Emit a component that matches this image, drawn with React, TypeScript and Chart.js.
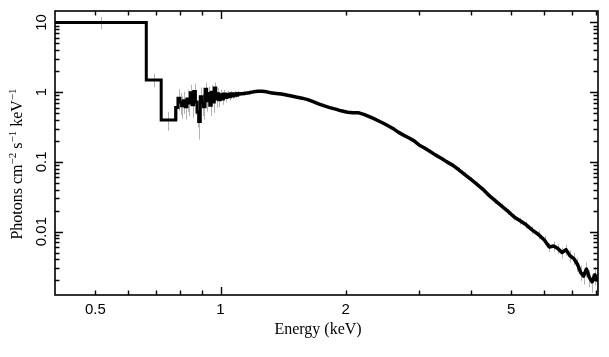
import React, { useEffect, useRef } from "react";
import { Chart, registerables } from "chart.js";

Chart.register(...registerables);

// ---- Low-energy, wide/noisy bins: lower bin edges (keV) and flux ----
const binLo = [
  0.3, 0.663, 0.72, 0.78, 0.79, 0.798, 0.806, 0.814, 0.822, 0.83, 0.838, 0.846,
  0.854, 0.862, 0.87, 0.878, 0.886, 0.894, 0.902, 0.91, 0.918, 0.926, 0.934,
  0.942, 0.95, 0.958, 0.966, 0.974, 0.982, 0.99, 0.998, 1.006, 1.016, 1.026,
  1.036, 1.046, 1.056, 1.066, 1.076, 1.086, 1.098,
];
const binEnd = 1.11;
const binFlux = [
  10, 1.5, 0.4, 0.6, 0.82, 0.72, 0.64, 0.75, 0.62, 0.8, 0.7, 0.98,
  0.66, 1.02, 0.72, 0.52, 0.38, 0.86, 0.7, 0.62, 1.1, 0.75, 0.96,
  0.65, 1.0, 0.72, 1.15, 0.8, 0.95, 0.78, 0.92, 0.8, 0.94, 0.84,
  0.93, 0.86, 0.95, 0.88, 0.95, 0.9, 0.96,
];
const binErr = [
  0.2, 0.22, 0.3, 0.35, 0.35, 0.35, 0.35, 0.35, 0.35, 0.35, 0.35, 0.3,
  0.35, 0.3, 0.35, 0.4, 0.45, 0.35, 0.35, 0.35, 0.25, 0.3, 0.25,
  0.3, 0.25, 0.3, 0.2, 0.25, 0.2, 0.22, 0.18, 0.18, 0.15, 0.15,
  0.12, 0.12, 0.1, 0.1, 0.1, 0.09, 0.09,
];

// ---- Finely binned part: bin centres (keV) and flux ----
const fineE = [
  1.11, 1.14, 1.17, 1.2, 1.23, 1.26, 1.29, 1.32, 1.36, 1.4, 1.44, 1.48, 1.52,
  1.57, 1.62, 1.67, 1.72, 1.77, 1.83, 1.89, 1.95, 2.02, 2.08, 2.15, 2.21, 2.27,
  2.33, 2.4, 2.47, 2.54, 2.61, 2.68, 2.76, 2.84, 2.92, 3.0, 3.1, 3.19, 3.29,
  3.4, 3.5, 3.62, 3.74, 3.86, 4.0, 4.13, 4.28, 4.42, 4.58, 4.75, 4.92, 5.08,
  5.26, 5.43, 5.62, 5.82, 6.01, 6.17, 6.32, 6.47, 6.62, 6.77, 6.92, 7.07, 7.21,
  7.34, 7.46, 7.58, 7.7, 7.82, 7.94, 8.05,
];
const fineFlux = [
  0.94, 0.96, 0.98, 1.01, 1.03, 1.03, 1.01, 0.98, 0.96, 0.94, 0.91, 0.88, 0.85,
  0.82, 0.78, 0.73, 0.68, 0.64, 0.6, 0.57, 0.54, 0.515, 0.505, 0.505, 0.48, 0.45,
  0.42, 0.385, 0.355, 0.325, 0.295, 0.265, 0.24, 0.22, 0.2, 0.175, 0.157, 0.141, 0.125,
  0.112, 0.1, 0.089, 0.077, 0.066, 0.056, 0.048, 0.04, 0.033, 0.0275, 0.023, 0.0193, 0.0162,
  0.0142, 0.0125, 0.0105, 0.009, 0.0075, 0.006, 0.0062, 0.0057, 0.005, 0.0055, 0.0045, 0.0041, 0.0034,
  0.0026, 0.0023, 0.0029, 0.0022, 0.0019, 0.0024, 0.002,
];
const fineErr = [
  0.08, 0.07, 0.07, 0.06, 0.06, 0.05, 0.05, 0.05, 0.05, 0.05, 0.05, 0.05, 0.05,
  0.05, 0.05, 0.05, 0.05, 0.05, 0.05, 0.05, 0.05, 0.05, 0.05, 0.05, 0.05, 0.05,
  0.05, 0.05, 0.05, 0.05, 0.05, 0.05, 0.05, 0.05, 0.05, 0.05, 0.06, 0.06, 0.06,
  0.06, 0.07, 0.07, 0.07, 0.08, 0.08, 0.08, 0.09, 0.09, 0.1, 0.1, 0.1, 0.11,
  0.12, 0.12, 0.13, 0.14, 0.15, 0.15, 0.16, 0.16, 0.18, 0.18, 0.2, 0.2, 0.22,
  0.25, 0.25, 0.25, 0.28, 0.3, 0.3, 0.3,
];

const xTickLabels = [0.5, 1, 2, 5];
const yTickLabels = [0.01, 0.1, 1, 10];
const xLabel = "Energy (keV)";
const yLabelParts: [string, boolean][] = [
  ["Photons cm", false],
  ["\u22122", true],
  [" s", false],
  ["\u22121", true],
  [" keV", false],
  ["\u22121", true],
];

const X_MIN = 0.4;
const X_MAX = 8.08;
const Y_MIN = 0.00123;
const Y_MAX = 14.6;

const errorBarPlugin = {
  id: "errorBars",
  beforeDatasetsDraw(chart: any) {
    const { ctx, chartArea, scales } = chart;
    const xs = scales.x;
    const ys = scales.y;
    ctx.save();
    ctx.beginPath();
    ctx.rect(chartArea.left, chartArea.top, chartArea.right - chartArea.left, chartArea.bottom - chartArea.top);
    ctx.clip();
    ctx.strokeStyle = "#b4b4b4";
    ctx.lineWidth = 1;
    const bar = (e: number, f: number, r: number) => {
      const px = Math.round(xs.getPixelForValue(e)) + 0.5;
      ctx.beginPath();
      ctx.moveTo(px, ys.getPixelForValue(f * (1 + r)));
      ctx.lineTo(px, ys.getPixelForValue(f * (1 - r)));
      ctx.stroke();
    };
    for (let i = 0; i < binFlux.length; i++) {
      const lo = Math.max(binLo[i], X_MIN);
      const hi = i + 1 < binLo.length ? binLo[i + 1] : binEnd;
      bar(Math.sqrt(lo * hi), binFlux[i], binErr[i]);
    }
    for (let i = 0; i < fineFlux.length; i++) bar(fineE[i], fineFlux[i], fineErr[i]);
    ctx.restore();
  },
};

const framePlugin = {
  id: "frameTicks",
  afterDraw(chart: any) {
    const { ctx, chartArea, scales } = chart;
    const xs = scales.x;
    const ys = scales.y;
    const { left, right, top, bottom } = chartArea;
    ctx.save();
    ctx.strokeStyle = "#000";
    ctx.lineWidth = 1.6;
    ctx.strokeRect(left, top, right - left, bottom - top);
    ctx.lineWidth = 1.4;
    for (let d = -2; d <= 1; d++) {
      for (let m = 1; m <= 9; m++) {
        const v = m * Math.pow(10, d);
        if (v <= X_MIN || v >= X_MAX) continue;
        const px = Math.round(xs.getPixelForValue(v)) + 0.5;
        const len = m === 1 ? 8 : 4.5;
        ctx.beginPath();
        ctx.moveTo(px, bottom);
        ctx.lineTo(px, bottom - len);
        ctx.moveTo(px, top);
        ctx.lineTo(px, top + len);
        ctx.stroke();
      }
    }
    for (let d = -4; d <= 2; d++) {
      for (let m = 1; m <= 9; m++) {
        const v = m * Math.pow(10, d);
        if (v <= Y_MIN || v >= Y_MAX) continue;
        const py = Math.round(ys.getPixelForValue(v)) + 0.5;
        const len = m === 1 ? 8 : 4.5;
        ctx.beginPath();
        ctx.moveTo(left, py);
        ctx.lineTo(left + len, py);
        ctx.moveTo(right, py);
        ctx.lineTo(right - len, py);
        ctx.stroke();
      }
    }
    ctx.fillStyle = "#000";
    ctx.font = '15px "Liberation Sans", Arial, sans-serif';
    ctx.textAlign = "center";
    ctx.textBaseline = "alphabetic";
    for (const v of xTickLabels) {
      ctx.fillText(String(v), xs.getPixelForValue(v), bottom + 18.5);
    }
    for (const v of yTickLabels) {
      const py = ys.getPixelForValue(v);
      ctx.save();
      ctx.translate(left - 9.5, py);
      ctx.rotate(-Math.PI / 2);
      ctx.fillText(String(v), 0, 0);
      ctx.restore();
    }
    ctx.font = '16px "Liberation Serif", "Times New Roman", serif';
    ctx.fillText(xLabel, 318, bottom + 39);
    const big = '16px "Liberation Serif", "Times New Roman", serif';
    const small = '11px "Liberation Serif", "Times New Roman", serif';
    let total = 0;
    for (const [t, sup] of yLabelParts) {
      ctx.font = sup ? small : big;
      total += ctx.measureText(t).width;
    }
    ctx.save();
    ctx.translate(22, 164);
    ctx.rotate(-Math.PI / 2);
    ctx.textAlign = "left";
    let x = -total / 2;
    for (const [t, sup] of yLabelParts) {
      ctx.font = sup ? small : big;
      ctx.fillText(t, x, sup ? -6 : 0);
      x += ctx.measureText(t).width;
    }
    ctx.restore();
    ctx.restore();
  },
};

export default function App() {
  const ref = useRef<HTMLCanvasElement>(null);
  useEffect(() => {
    if (!ref.current) return;
    const stepPts = binLo.map((x, i) => ({ x, y: binFlux[i] }));
    stepPts.push({ x: binEnd, y: binFlux[binFlux.length - 1] });
    const finePts = fineE.map((x, i) => ({ x, y: fineFlux[i] }));
    const chart = new Chart(ref.current, {
      type: "line",
      data: {
        datasets: [
          {
            data: stepPts,
            borderColor: "#000",
            borderWidth: 3,
            pointRadius: 0,
            stepped: true,
            fill: false,
          },
          {
            data: finePts,
            borderColor: "#000",
            borderWidth: 3.5,
            pointRadius: 0,
            tension: 0,
            borderJoinStyle: "round",
            borderCapStyle: "round",
            fill: false,
          },
        ],
      },
      options: {
        animation: false,
        responsive: false,
        layout: { padding: { left: 55, right: 11, top: 11, bottom: 62 } },
        plugins: { legend: { display: false }, tooltip: { enabled: false } },
        scales: {
          x: { type: "logarithmic", min: X_MIN, max: X_MAX, display: false },
          y: { type: "logarithmic", min: Y_MIN, max: Y_MAX, display: false },
        },
      },
      plugins: [errorBarPlugin, framePlugin],
    });
    return () => chart.destroy();
  }, []);
  return (
    <div style={{ position: "absolute", left: 0, top: 0, width: 609, height: 357, background: "#fff" }}>
      <canvas ref={ref} width={609} height={357} />
    </div>
  );
}
